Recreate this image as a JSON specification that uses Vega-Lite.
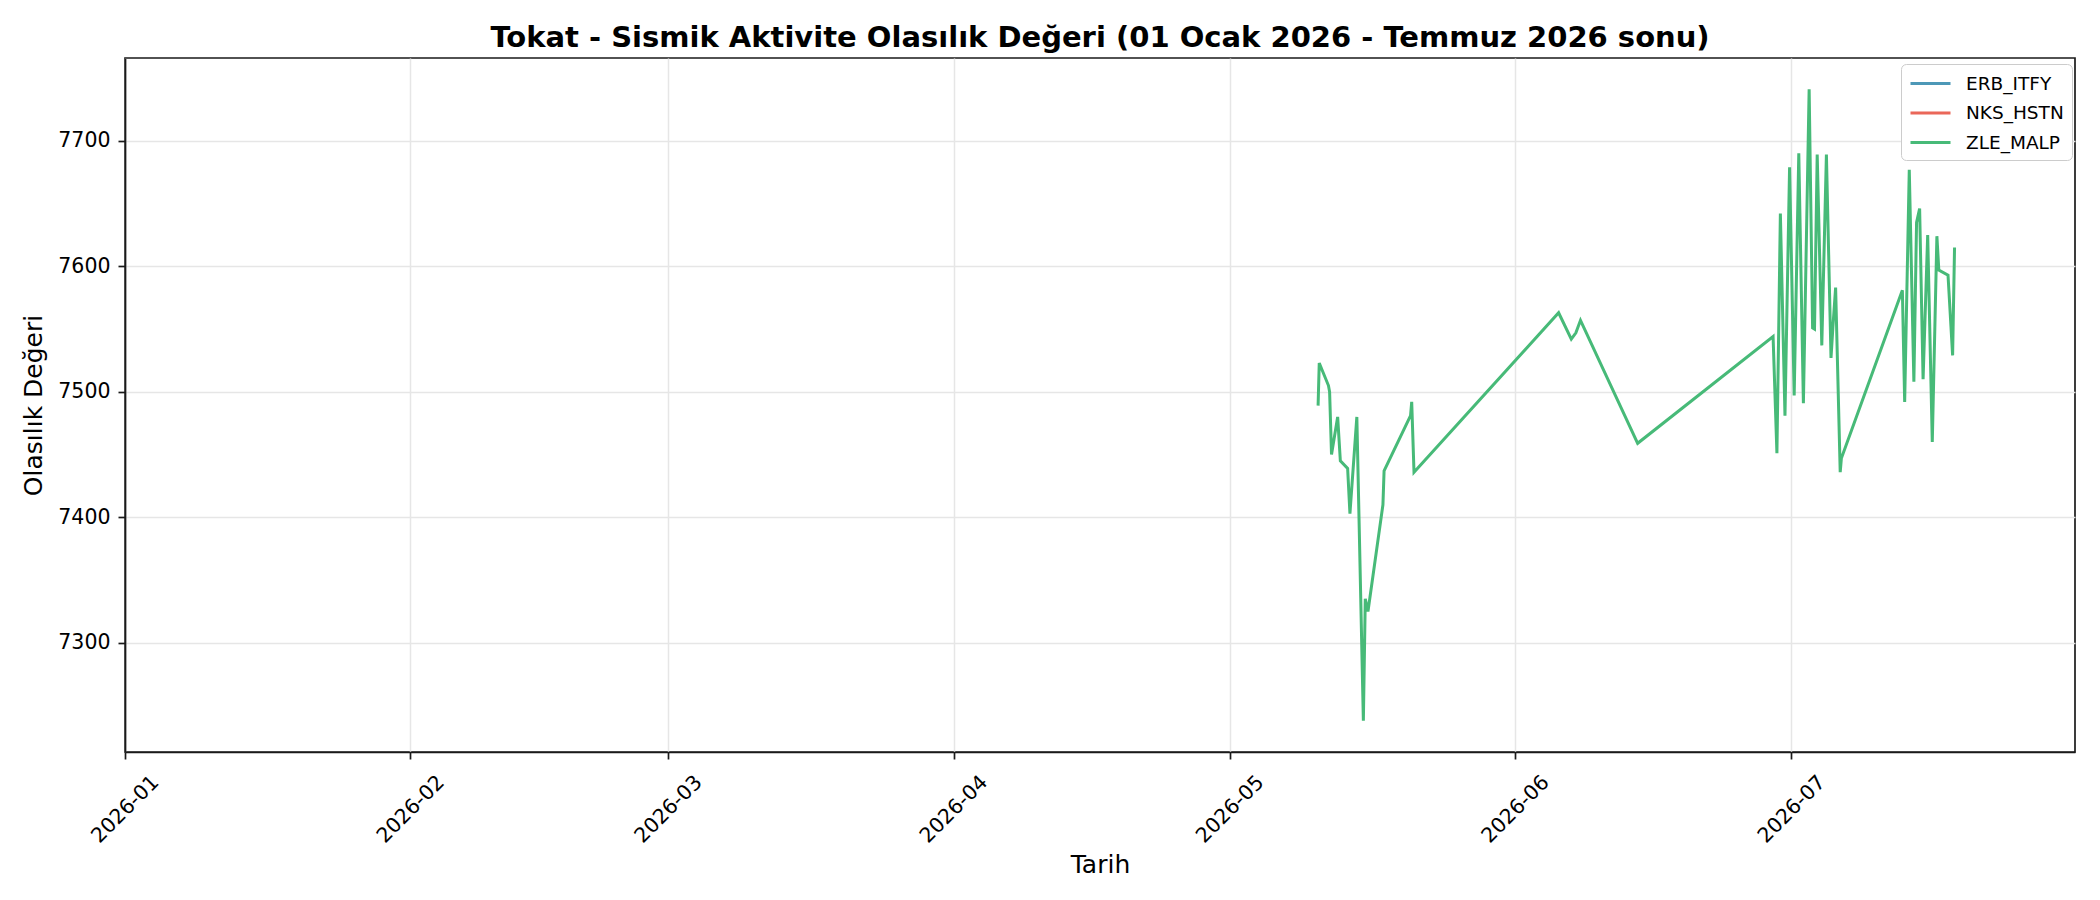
{
  "$schema": "https://vega.github.io/schema/vega-lite/v6.json",
  "width": 1950,
  "height": 694,
  "autosize": "none",
  "padding": {"left": 125, "top": 58, "right": 25, "bottom": 148},
  "background": "white",
  "title": {
    "text": "Tokat - Sismik Aktivite Olasılık Değeri (01 Ocak 2026 - Temmuz 2026 sonu)",
    "font": "DejaVu Sans",
    "fontSize": 29,
    "fontWeight": "bold",
    "color": "black",
    "anchor": "middle",
    "offset": 5
  },
  "config": {
    "font": "DejaVu Sans",
    "view": {"stroke": "#1a1a1a", "strokeWidth": 1.7},
    "axis": {
      "labelFont": "DejaVu Sans",
      "labelFontSize": 20.5,
      "labelColor": "black",
      "titleFont": "DejaVu Sans",
      "titleFontSize": 25,
      "titleFontWeight": "normal",
      "titleColor": "black",
      "domainColor": "#1a1a1a",
      "domainWidth": 1.7,
      "tickColor": "#1a1a1a",
      "tickWidth": 1.7,
      "tickSize": 7,
      "gridColor": "#e6e6e6",
      "gridWidth": 1.5
    }
  },
  "data": {
    "values": [
      {"tarih": "2026-05-10T14:00", "seri": "ZLE_MALP", "deger": 7489},
      {"tarih": "2026-05-10T17:00", "seri": "ZLE_MALP", "deger": 7523},
      {"tarih": "2026-05-11T17:00", "seri": "ZLE_MALP", "deger": 7505},
      {"tarih": "2026-05-11T20:00", "seri": "ZLE_MALP", "deger": 7500},
      {"tarih": "2026-05-12T01:00", "seri": "ZLE_MALP", "deger": 7450},
      {"tarih": "2026-05-12T17:00", "seri": "ZLE_MALP", "deger": 7480},
      {"tarih": "2026-05-13T00:00", "seri": "ZLE_MALP", "deger": 7445},
      {"tarih": "2026-05-13T19:00", "seri": "ZLE_MALP", "deger": 7439},
      {"tarih": "2026-05-14T01:00", "seri": "ZLE_MALP", "deger": 7403},
      {"tarih": "2026-05-14T19:00", "seri": "ZLE_MALP", "deger": 7480},
      {"tarih": "2026-05-15T12:00", "seri": "ZLE_MALP", "deger": 7238},
      {"tarih": "2026-05-15T17:00", "seri": "ZLE_MALP", "deger": 7335},
      {"tarih": "2026-05-16T00:00", "seri": "ZLE_MALP", "deger": 7325},
      {"tarih": "2026-05-17T15:00", "seri": "ZLE_MALP", "deger": 7410},
      {"tarih": "2026-05-17T18:00", "seri": "ZLE_MALP", "deger": 7437},
      {"tarih": "2026-05-20T15:00", "seri": "ZLE_MALP", "deger": 7481},
      {"tarih": "2026-05-20T18:00", "seri": "ZLE_MALP", "deger": 7492},
      {"tarih": "2026-05-21T00:00", "seri": "ZLE_MALP", "deger": 7436},
      {"tarih": "2026-06-05T17:00", "seri": "ZLE_MALP", "deger": 7563},
      {"tarih": "2026-06-07T02:00", "seri": "ZLE_MALP", "deger": 7542},
      {"tarih": "2026-06-07T14:00", "seri": "ZLE_MALP", "deger": 7547},
      {"tarih": "2026-06-08T02:00", "seri": "ZLE_MALP", "deger": 7557},
      {"tarih": "2026-06-14T07:00", "seri": "ZLE_MALP", "deger": 7459},
      {"tarih": "2026-06-29T00:00", "seri": "ZLE_MALP", "deger": 7544},
      {"tarih": "2026-06-29T10:00", "seri": "ZLE_MALP", "deger": 7451},
      {"tarih": "2026-06-29T19:00", "seri": "ZLE_MALP", "deger": 7642},
      {"tarih": "2026-06-30T07:00", "seri": "ZLE_MALP", "deger": 7481},
      {"tarih": "2026-06-30T19:00", "seri": "ZLE_MALP", "deger": 7679},
      {"tarih": "2026-07-01T07:00", "seri": "ZLE_MALP", "deger": 7497},
      {"tarih": "2026-07-01T19:00", "seri": "ZLE_MALP", "deger": 7690},
      {"tarih": "2026-07-02T07:00", "seri": "ZLE_MALP", "deger": 7491},
      {"tarih": "2026-07-02T22:00", "seri": "ZLE_MALP", "deger": 7741},
      {"tarih": "2026-07-03T07:00", "seri": "ZLE_MALP", "deger": 7551},
      {"tarih": "2026-07-03T12:00", "seri": "ZLE_MALP", "deger": 7550},
      {"tarih": "2026-07-03T19:00", "seri": "ZLE_MALP", "deger": 7689},
      {"tarih": "2026-07-04T07:00", "seri": "ZLE_MALP", "deger": 7537},
      {"tarih": "2026-07-04T19:00", "seri": "ZLE_MALP", "deger": 7689},
      {"tarih": "2026-07-05T07:00", "seri": "ZLE_MALP", "deger": 7527},
      {"tarih": "2026-07-05T12:00", "seri": "ZLE_MALP", "deger": 7552},
      {"tarih": "2026-07-05T19:00", "seri": "ZLE_MALP", "deger": 7583},
      {"tarih": "2026-07-06T07:00", "seri": "ZLE_MALP", "deger": 7436},
      {"tarih": "2026-07-06T10:00", "seri": "ZLE_MALP", "deger": 7447},
      {"tarih": "2026-07-13T01:00", "seri": "ZLE_MALP", "deger": 7581},
      {"tarih": "2026-07-13T07:00", "seri": "ZLE_MALP", "deger": 7492},
      {"tarih": "2026-07-13T19:00", "seri": "ZLE_MALP", "deger": 7677},
      {"tarih": "2026-07-14T07:00", "seri": "ZLE_MALP", "deger": 7508},
      {"tarih": "2026-07-14T14:00", "seri": "ZLE_MALP", "deger": 7635},
      {"tarih": "2026-07-14T22:00", "seri": "ZLE_MALP", "deger": 7646},
      {"tarih": "2026-07-15T07:00", "seri": "ZLE_MALP", "deger": 7510},
      {"tarih": "2026-07-15T19:00", "seri": "ZLE_MALP", "deger": 7625},
      {"tarih": "2026-07-16T07:00", "seri": "ZLE_MALP", "deger": 7460},
      {"tarih": "2026-07-16T19:00", "seri": "ZLE_MALP", "deger": 7624},
      {"tarih": "2026-07-17T00:00", "seri": "ZLE_MALP", "deger": 7597},
      {"tarih": "2026-07-18T00:00", "seri": "ZLE_MALP", "deger": 7593},
      {"tarih": "2026-07-18T12:00", "seri": "ZLE_MALP", "deger": 7529},
      {"tarih": "2026-07-18T17:00", "seri": "ZLE_MALP", "deger": 7615}
    ]
  },
  "mark": {"type": "line", "strokeWidth": 3, "clip": true},
  "encoding": {
    "x": {
      "field": "tarih",
      "type": "temporal",
      "title": "Tarih",
      "scale": {
        "domain": [
          {"year": 2026, "month": 1, "date": 1},
          {"year": 2026, "month": 7, "date": 31, "hours": 19}
        ],
        "nice": false
      },
      "axis": {
        "format": "%Y-%m",
        "tickCount": {"interval": "month", "step": 1},
        "labelAngle": -45,
        "labelAlign": "center",
        "labelBaseline": "middle",
        "labelPadding": 50,
        "labelFlush": false,
        "labelOverlap": false,
        "titlePadding": 6
      }
    },
    "y": {
      "field": "deger",
      "type": "quantitative",
      "title": "Olasılık Değeri",
      "scale": {"domain": [7213, 7766], "nice": false, "zero": false},
      "axis": {
        "values": [7300, 7400, 7500, 7600, 7700],
        "format": "d",
        "labelPadding": 8,
        "titlePadding": 11
      }
    },
    "color": {
      "field": "seri",
      "type": "nominal",
      "title": null,
      "scale": {
        "domain": ["ERB_ITFY", "NKS_HSTN", "ZLE_MALP"],
        "range": ["#4d98b7", "#ea6759", "#47ba78"]
      },
      "legend": {
        "orient": "none",
        "legendX": 1776,
        "legendY": 6,
        "symbolType": "M-1,0H3",
        "symbolSize": 400,
        "symbolStrokeWidth": 3,
        "symbolFillColor": "transparent",
        "labelFont": "DejaVu Sans",
        "labelFontSize": 18.5,
        "labelColor": "black",
        "labelOffset": 34,
        "rowPadding": 8.5,
        "padding": 8,
        "strokeColor": "#cccccc",
        "fillColor": "white",
        "cornerRadius": 5
      }
    }
  }
}
